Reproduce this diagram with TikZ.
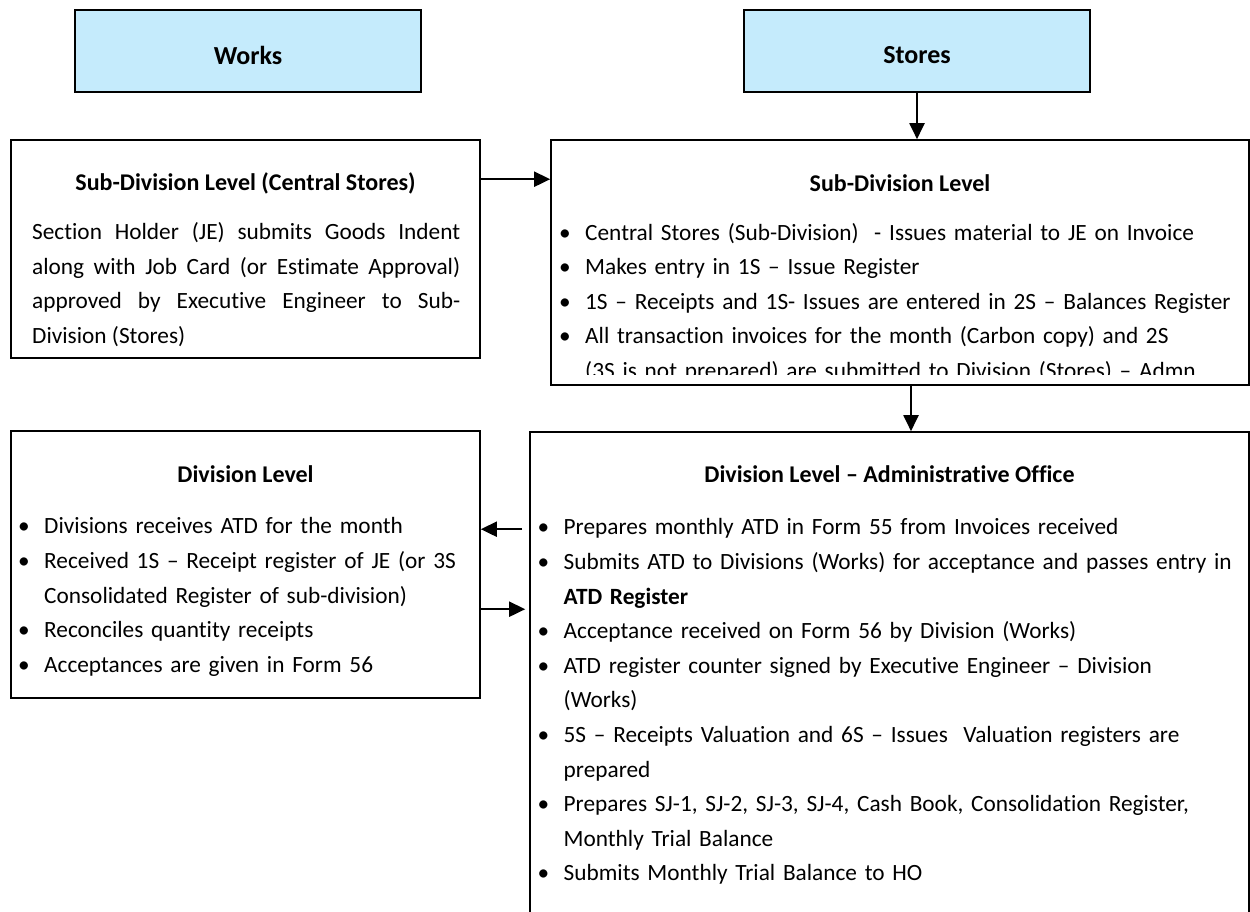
\documentclass[tikz,border=0pt]{standalone}
\usepackage{fontspec}
\setmainfont{Carlito}[Ligatures=NoCommon]
\usetikzlibrary{arrows.meta,calc}
\definecolor{boxblue}{RGB}{197,235,252}
\newcommand{\bitem}[1]{\par\noindent\hangindent=26pt\hangafter=1\strut\makebox[26pt][l]{\textbullet}#1\par}
\newcommand{\nl}{\hfil\break}
\tikzset{
  basefont/.style={font=\fontsize{23.3}{34.6}\selectfont},
  box/.style={draw=black, line width=1.6pt, inner sep=0pt, fill=white},
  bluebox/.style={box, fill=boxblue, minimum width=346pt, minimum height=82pt},
  bluetext/.style={inner sep=0pt, font=\fontsize{26}{30}\selectfont\bfseries},
  heading/.style={inner sep=0pt, font=\fontsize{24}{34.6}\selectfont\bfseries},
  body/.style={basefont, inner sep=0pt, anchor=north west, align=left},
  arr/.style={line width=2pt, -{Triangle[length=16pt,width=15pt]}}
}
\begin{document}
\begin{tikzpicture}[x=1pt,y=-1pt]
\useasboundingbox (0,0) rectangle (1250,911);
\clip (0,0) rectangle (1250,911);
% boxes
\node[bluebox] (works) at (248,51) {};
\node[bluebox] (stores) at (917,51) {};
\node[bluetext] (worksT) at (248,55) {Works};
\node[bluetext] (storesT) at (917,55) {Stores};
\node[box, minimum width=469pt, minimum height=218pt] (central) at (245.5,249) {};
\node[box, minimum width=698pt, minimum height=245pt] (subdiv) at (900,262.5) {};
\node[box, minimum width=469pt, minimum height=267pt] (division) at (245.5,564.5) {};
\node[box, minimum width=719pt, minimum height=493pt] (admin) at (889.5,678.5) {};
% headings
\node[heading] (centralH) at (245.5,183) {Sub-Division Level (Central Stores)};
\node[heading] (subdivH) at (900,183) {Sub-Division Level};
\node[heading] (divisionH) at (245.5,474) {Division Level};
\node[heading] (adminH) at (889.5,474) {Division Level – Administrative Office};
% bodies
\node[body, text width=428pt, align=justify] (centralB) at (32,215.3) {\parindent=0pt\strut Section Holder (JE) submits Goods Indent\linebreak along with Job Card (or Estimate Approval)\linebreak approved by Executive Engineer to Sub-\linebreak Division (Stores)};
\begin{scope}
\clip (552,141) rectangle (1248,374);
\node[body, text width=690pt] (subdivB) at (559,205.3) {%
\bitem{Central Stores (Sub-Division)\ \ - Issues material to JE on Invoice}
\bitem{Makes entry in 1S – Issue Register}
\bitem{1S – Receipts and 1S- Issues are entered in 2S – Balances Register}
\bitem{All transaction invoices for the month (Carbon copy) and 2S\nl (3S is not prepared) are submitted to Division (Stores) – Admn}};
\end{scope}
\node[body, text width=455pt] (divisionB) at (18,499) {%
\bitem{Divisions receives ATD for the month}
\bitem{Received 1S – Receipt register of JE (or 3S\nl Consolidated Register of sub-division)}
\bitem{Reconciles quantity receipts}
\bitem{Acceptances are given in Form 56}};
\node[body, text width=708pt] (adminB) at (537.5,500) {%
\bitem{Prepares monthly ATD in Form 55 from Invoices received}
\bitem{Submits ATD to Divisions (Works) for acceptance and passes entry in\nl \textbf{ATD Register}}
\bitem{Acceptance received on Form 56 by Division (Works)}
\bitem{ATD register counter signed by Executive Engineer – Division\nl (Works)}
\bitem{5S – Receipts Valuation and 6S – Issues\ \ Valuation registers are\nl prepared}
\bitem{Prepares SJ-1, SJ-2, SJ-3, SJ-4, Cash Book, Consolidation Register,\nl Monthly Trial Balance}
\bitem{Submits Monthly Trial Balance to HO}};
% connectors
\draw[arr] (stores.south) -- (stores.south |- subdiv.north);
\draw[arr] ([yshift=-40pt]central.north east) -- ([yshift=-40pt]subdiv.north west);
\coordinate (sd) at ([xshift=11pt]subdiv.south);
\draw[arr] (sd) -- (sd |- admin.north);
\coordinate (la) at ([shift={(-7pt,-98pt)}]admin.north west);
\draw[arr] (la) -- (la -| division.east);
\coordinate (ra) at ([yshift=-179pt]division.north east);
\coordinate (rb) at ([xshift=-4pt]admin.west);
\draw[arr] (ra) -- (ra -| rb);
\end{tikzpicture}
\end{document}
